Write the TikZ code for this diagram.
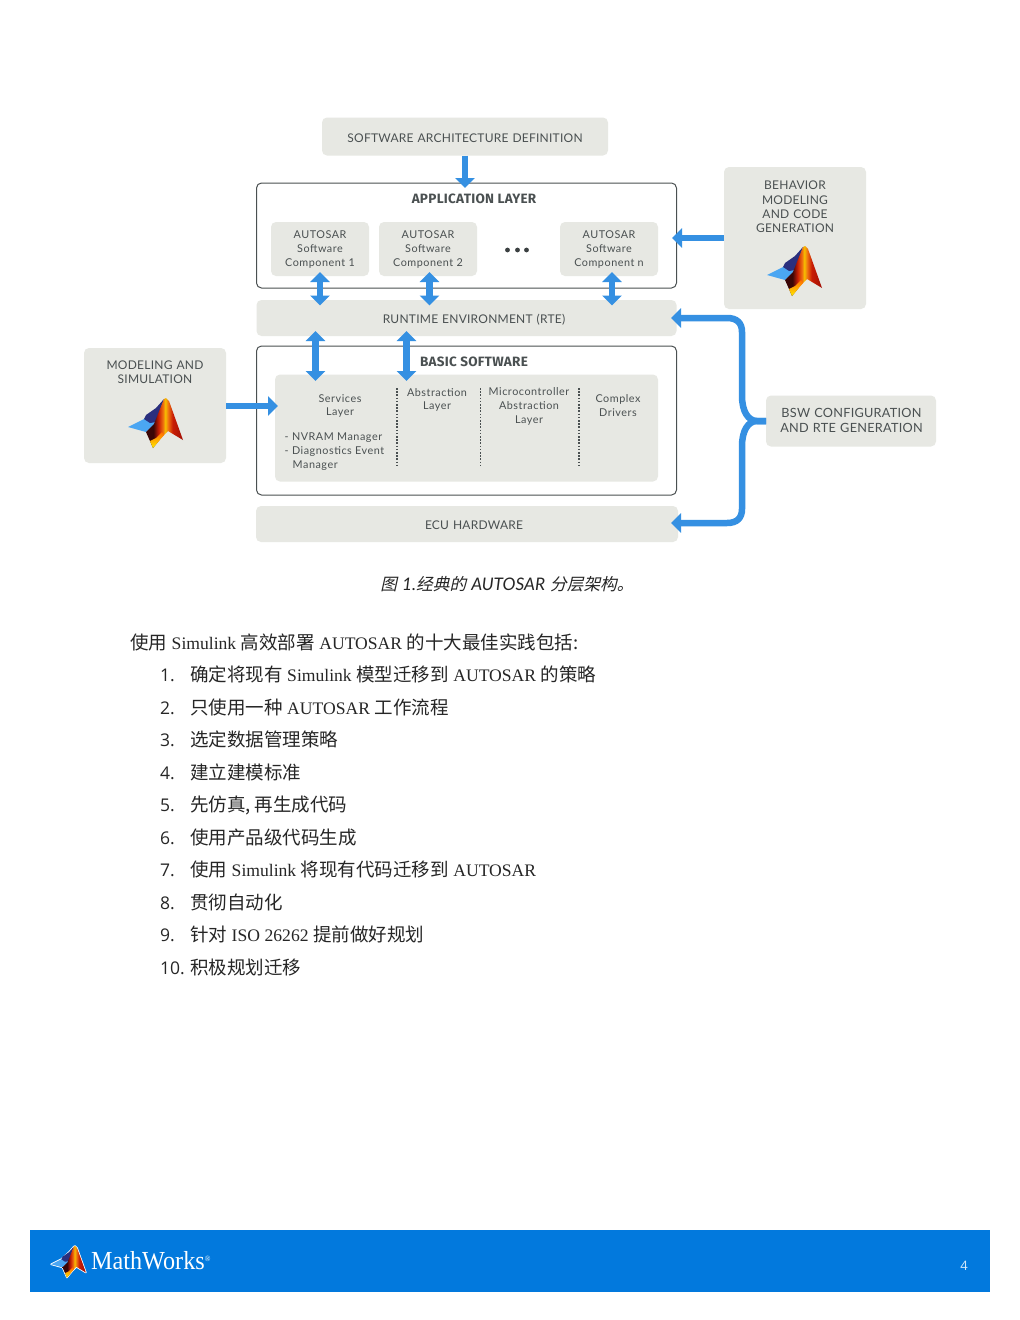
\documentclass[tikz,border=0pt]{standalone}
\usepackage{fontspec}
\setmainfont[WordSpace=1.03]{Liberation Serif}
\newfontfamily\cjk{Noto Sans CJK SC}
\newfontfamily\cjkit[FakeSlant=0.22]{Noto Sans CJK SC}
\newfontfamily\dg[LetterSpace=2,WordSpace=1.2]{Lato}
\newfontfamily\dgs[LetterSpace=5]{Lato}
\newfontfamily\dgb[LetterSpace=2]{Fira Sans}
\newfontfamily\nm{Open Sans}
\newfontfamily\nmit{Lato}
\newfontfamily\mwf[FakeStretch=0.93]{Liberation Serif}
\usetikzlibrary{arrows.meta,calc}
\definecolor{boxgray}{HTML}{E7E8E3}
\definecolor{flow}{HTML}{3590E2}
\definecolor{txt}{HTML}{4A5051}
\definecolor{band}{HTML}{0279DD}
\newcommand{\zh}[1]{{\cjk\fontsize{18.5}{22}\selectfont #1}}
\definecolor{mwa}{HTML}{3A0606}
\definecolor{mwb}{HTML}{C81E05}
\definecolor{mwc}{HTML}{EE7210}
\definecolor{mwd}{HTML}{F6C000}
\definecolor{mwe}{HTML}{A00E05}
\definecolor{mwl}{HTML}{4BA6F2}
\definecolor{mwn}{HTML}{2A2F7E}
\pgfdeclarehorizontalshading{mwbody}{100bp}{
 color(0bp)=(mwa); color(35bp)=(mwa); color(42bp)=(mwb); color(48bp)=(mwc);
 color(51bp)=(mwd); color(55bp)=(mwc); color(61bp)=(mwb); color(75bp)=(mwe); color(100bp)=(mwe)}
\tikzset{
 x=1pt,y=-1pt,
 pane/.style={fill=boxgray,draw=none,rounded corners=5pt,inner sep=0pt},
 frame/.style={draw=txt,line width=1pt,rounded corners=5pt,fill=white,inner sep=0pt},
 lab/.style={font=\dg\fontsize{12}{14.4}\selectfont,text=txt,align=center,inner sep=0pt},
 labs/.style={font=\dgs\fontsize{10.8}{13.6}\selectfont,text=txt,align=center,inner sep=0pt},
 head/.style={font=\dgb\fontsize{13.5}{14}\selectfont\bfseries,text=txt,inner sep=0pt},
 flowline/.style={draw=flow,line width=6.5pt},
 flowtip/.style={-{Triangle[width=19pt,length=10pt,fill=flow]}},
 one/.style={flowline,flowtip},
 two/.style={flowline,{Triangle[width=19pt,length=10pt,fill=flow]}-{Triangle[width=19pt,length=10pt,fill=flow]}},
 sep/.style={draw=txt,line width=1.2pt,dash pattern=on 1.5pt off 1.7pt},
 body/.style={font=\fontsize{17.6}{22}\selectfont,text=black!85,anchor=base west,inner sep=0pt},
 numr/.style={font=\nm\fontsize{17.5}{22}\selectfont,text=black!85,anchor=base west,inner sep=0pt},
}
% logo: #1 = origin (apex), #2 = scale
\newcommand{\mwshape}{(-37,29) -- (-21,21) -- (-9,10) -- (-1,1) -- (1,0) -- (4,3) -- (18,42) -- (3,33) -- (-3,39) -- (-12,50) -- (-15,43) -- (-19,34) -- cycle}
\newcommand{\mwlogo}[2]{%
 \begin{scope}[shift={#1},scale=#2]
  \fill[mwl] (-37,29) -- (-21,21) -- (-12,15) -- (-10,26) -- (-19,34) -- cycle;
  \fill[mwn] (-21,21) -- (-19,17) -- (-9,10) -- (-1,1) -- (-9,24) -- (-15,25) -- cycle;
  \path[shading=mwbody] (-19,34) -- (-11,26) -- (-1,1) -- (1,0) -- (4,3) -- (18,42) -- (3,33) -- (-3,39) -- (-12,50) -- (-15,43) -- cycle;
  \shade[bottom color=yellow!85!orange,top color=orange!85!red] (-15,43) -- (-9,40) -- (-3,34) -- (-1,37) -- (-12,50) -- cycle;
 \end{scope}}
\begin{document}
\begin{tikzpicture}
\useasboundingbox (0,0) rectangle (1020,1320);
\fill[white] (0,0) rectangle (1020,1320);
% nodes
\node[pane,minimum width=286pt,minimum height=38pt] (arch) at (465,136.5) {};
\node[lab] (archt) at (465,138.5) {SOFTWARE ARCHITECTURE DEFINITION};
\node[frame,minimum width=420pt,minimum height=105pt] (app) at (466.5,235.5) {};
\node[head] (appt) at (474,198.5) {APPLICATION LAYER};
\node[pane,minimum width=98pt,minimum height=54pt] (c1) at (320,249) {};
\node[pane,minimum width=98pt,minimum height=54pt] (c2) at (428,249) {};
\node[pane,minimum width=98pt,minimum height=54pt] (cn) at (609,249) {};
\node[labs] at (320,249.5) {AUTOSAR\\Software\\Component 1};
\node[labs] at (428,249.5) {AUTOSAR\\Software\\Component 2};
\node[labs] at (609,249.5) {AUTOSAR\\Software\\Component n};
\foreach \dx/\nn in {507.5/a,517.5/b,526.5/c}{\fill[txt!80!black] (\dx,250) circle (2.4pt);}
\node[pane,minimum width=420pt,minimum height=36pt] (rte) at (466.5,318) {};
\node[lab] (rtet) at (474,320) {RUNTIME ENVIRONMENT (RTE)};
\node[frame,minimum width=420pt,minimum height=149pt] (bsw) at (466.5,420.5) {};
\node[head] (bswt) at (474,361.5) {BASIC SOFTWARE};
\node[pane,minimum width=383pt,minimum height=107pt] (inner) at (466.5,428) {};
\node[labs] (sv) at (340,406) {Services\\Layer};
\node[labs,align=left,anchor=north west] (nv) at (284.5,433) {- NVRAM Manager\\- Diagnostics Event\\\hspace*{8pt}Manager};
\node[labs] (ab) at (437,400) {Abstraction\\Layer};
\node[labs] (mc) at (529,406.5) {Microcontroller\\Abstraction\\Layer};
\node[labs] (cd) at (618,405.5) {Complex\\Drivers};
\coordinate (s1t) at (397,388); \coordinate (s1b) at (397,467);
\coordinate (s2t) at (480.5,388); \coordinate (s2b) at (480.5,467);
\coordinate (s3t) at (579,388); \coordinate (s3b) at (579,467);
\draw[sep] (s1t)--(s1b); \draw[sep] (s2t)--(s2b); \draw[sep] (s3t)--(s3b);
\node[pane,minimum width=422pt,minimum height=36pt] (ecu) at (467,524) {};
\node[lab] (ecut) at (474,525) {ECU HARDWARE};
\node[pane,minimum width=142pt,minimum height=115pt] (mod) at (155,405.5) {};
\node[lab] (modt) at (155,372) {MODELING AND\\SIMULATION};
\node[pane,minimum width=142pt,minimum height=142pt] (beh) at (795,238) {};
\node[lab] (beht) at (795,207) {BEHAVIOR\\MODELING\\AND CODE\\GENERATION};
\node[pane,minimum width=170pt,minimum height=51pt] (bc) at (851,421) {};
\node[lab,font=\dg\fontsize{12.7}{15}\selectfont] (bct) at (851.5,420) {BSW CONFIGURATION\\AND RTE GENERATION};
\mwlogo{(804,246)}{1}
\mwlogo{(165,398)}{1}
% connectors
\coordinate (archb) at (465,155.5);
\coordinate (appin) at (465,188);
\draw[one] (archb)--(appin);
\draw[one] (beh.west) -- (672,238);
\draw[two] (320,272)--(320,305.5);
\draw[two] (429.5,272)--(429.5,305.5);
\draw[two] (612,272)--(612,305.5);
\draw[two] (315.5,331)--(315.5,381);
\draw[two] (406.5,331)--(406.5,381);
\draw[one] (mod.east |- 0,406) -- (278,406);
\coordinate (bj) at (766,421);
\coordinate (rtein) at (671,318);
\coordinate (ecuin) at (671,523);
\draw[flowline,flowtip] (bj) -- (757,421) .. controls (748,421) and (742,411) .. (742,396) -- (742,332) .. controls (742,323) and (737,318) .. (727,318) -- (rtein);
\draw[flowline,flowtip] (bj) -- (757,421) .. controls (748,421) and (742,431) .. (742,446) -- (742,509) .. controls (742,518) and (737,523) .. (727,523) -- (ecuin);
% caption
\node[anchor=base,inner sep=0pt,text=black!85,font=\fontsize{16.7}{20}\selectfont] (cap) at (507,590.5) {\cjkit 图\hspace{5pt}{\nmit\itshape\fontsize{17.3}{20}\selectfont 1.}\cjkit 经典的\hspace{5pt}{\nmit\itshape\fontsize{17.3}{20}\selectfont AUTOSAR}\hspace{5pt}\cjkit 分层架构。};
% text
\node[body] (t0) at (130,649) {\zh{使用} Simulink \zh{高效部署} AUTOSAR \zh{的十大最佳实践包括:}};
\foreach \yy/\nn/\tx in {
 681/1./{\zh{确定将现有} Simulink \zh{模型迁移到} AUTOSAR \zh{的策略}},
 714/2./{\zh{只使用一种} AUTOSAR \zh{工作流程}},
 746/3./{\zh{选定数据管理策略}},
 779/4./{\zh{建立建模标准}},
 811/5./{\zh{先仿真, 再生成代码}},
 844/6./{\zh{使用产品级代码生成}},
 876/7./{\zh{使用} Simulink \zh{将现有代码迁移到} AUTOSAR},
 909/8./{\zh{贯彻自动化}},
 941/9./{\zh{针对} ISO 26262 \zh{提前做好规划}},
 974/10./{\zh{积极规划迁移}}}{
 \node[numr] at (160,\yy) {\nn};
 \node[body] at (190,\yy) {\tx};
}
% footer
\fill[band] (30,1230) rectangle (990,1292);
\begin{scope}[shift={(74.5,1246)},scale=0.63]
 \draw[white,fill=white,line width=1.6pt,line join=round] \mwshape;
\end{scope}
\mwlogo{(74.5,1246)}{0.63}
\node[anchor=base west,inner sep=0pt,text=white,font=\mwf\fontsize{26}{30}\selectfont] (mw) at (91,1269) {MathWorks\raisebox{8pt}{\fontsize{8}{9}\selectfont®}};
\node[anchor=base,inner sep=0pt,text=white!85!band,font=\nm\fontsize{13}{15}\selectfont] (pg) at (964,1270) {4};
\end{tikzpicture}
\end{document}
